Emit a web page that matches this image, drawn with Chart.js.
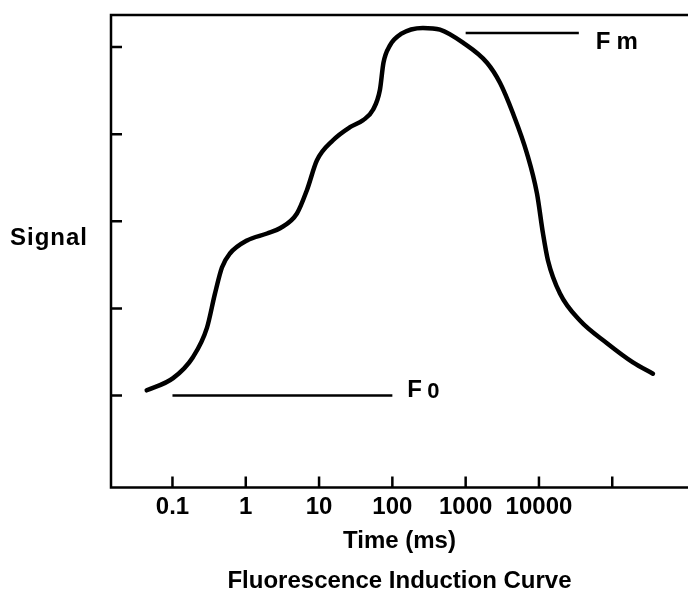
<!DOCTYPE html>
<html>
<head>
<meta charset="utf-8">
<script src="https://cdn.jsdelivr.net/npm/chart.js@4.4.1/dist/chart.umd.min.js"></script>
<style>
  html, body { margin: 0; padding: 0; background: #fff; }
</style>
</head>
<body>
<canvas id="chart" width="688" height="596"></canvas>
<script>
// ------------------------
// Data
// ------------------------

// induction curve: time (ms, log axis) and signal level (tick units)
const timeMs = [0.0445, 0.102, 0.19, 0.296, 0.38, 0.473, 0.608, 1.04, 1.95, 2.93,
  4.99, 6.84, 9.36, 15.5, 26.4, 39.7, 54.4, 67.7, 75.6, 92.8,
  131, 261, 446, 919, 1954, 2938, 4416, 6855, 9391, 11350,
  13270, 19360, 36250, 84700, 191500, 359000];
const signal = [1.06, 1.2, 1.44, 1.78, 2.17, 2.47, 2.63, 2.78, 2.86, 2.92,
  3.09, 3.36, 3.7, 3.93, 4.08, 4.16, 4.28, 4.51, 4.82, 5.02,
  5.15, 5.22, 5.2, 5.05, 4.82, 4.59, 4.24, 3.78, 3.32, 2.86,
  2.55, 2.17, 1.86, 1.6, 1.38, 1.25];

// reference levels
const f0Times = [0.1, 100];
const f0Level = 1;
const fmTimes = [1000, 35000];
const fmLevel = 5.16;

// axis ticks
const xTickValues = [0.1, 1, 10, 100, 1000, 10000, 100000];
const xTickLabels = ['0.1', '1', '10', '100', '1000', '10000', ''];
const yTickValues = [1, 2, 3, 4, 5];

const FONT = '"Liberation Sans", Arial, sans-serif';
Chart.defaults.font.family = FONT;
Chart.defaults.color = '#000';

// frame, inward ticks and the hand-placed labels
const framePlugin = {
  id: 'frame',
  afterDatasetsDraw(chart) {
    const { ctx, chartArea: a, scales: { x, y } } = chart;
    ctx.save();
    ctx.strokeStyle = '#000';
    ctx.lineWidth = 2.5;
    ctx.beginPath();
    ctx.moveTo(chart.width, a.top);
    ctx.lineTo(a.left, a.top);
    ctx.lineTo(a.left, a.bottom);
    ctx.lineTo(chart.width, a.bottom);
    xTickValues.forEach(v => {
      const px = x.getPixelForValue(v);
      ctx.moveTo(px, a.bottom);
      ctx.lineTo(px, a.bottom - 11);
    });
    yTickValues.forEach(v => {
      const py = y.getPixelForValue(v);
      ctx.moveTo(a.left, py);
      ctx.lineTo(a.left + 11, py);
    });
    ctx.stroke();

    ctx.fillStyle = '#000';
    ctx.textBaseline = 'middle';
    ctx.textAlign = 'left';
    ctx.font = 'bold 24px ' + FONT;
    ctx.letterSpacing = '1px';
    ctx.fillText('Signal', 10, 238);

    // Fm label
    ctx.letterSpacing = '6px';
    ctx.fillText('Fm', x.getPixelForValue(fmTimes[1]) + 17, y.getPixelForValue(fmLevel) + 9);

    // F0 label
    ctx.letterSpacing = '0px';
    const fx = x.getPixelForValue(f0Times[1]) + 15;
    const fy = y.getPixelForValue(f0Level) - 5;
    ctx.fillText('F', fx, fy);
    ctx.font = 'bold 22px ' + FONT;
    ctx.fillText('0', fx + 20, fy + 1);
    ctx.restore();
  }
};

new Chart(document.getElementById('chart'), {
  type: 'line',
  data: {
    datasets: [
      {
        data: timeMs.map((t, i) => ({ x: t, y: signal[i] })),
        borderColor: '#000',
        borderWidth: 4.5,
        cubicInterpolationMode: 'monotone',
        borderCapStyle: 'round',
        pointRadius: 0
      },
      {
        data: f0Times.map(t => ({ x: t, y: f0Level })),
        borderColor: '#000',
        borderWidth: 2.5,
        pointRadius: 0
      },
      {
        data: fmTimes.map(t => ({ x: t, y: fmLevel })),
        borderColor: '#000',
        borderWidth: 2.5,
        pointRadius: 0
      }
    ]
  },
  options: {
    responsive: false,
    animation: false,
    layout: { padding: { left: 111, top: 15, right: 0, bottom: 0 } },
    scales: {
      x: {
        type: 'logarithmic',
        min: 0.0145,
        max: 1080000,
        afterBuildTicks: scale => {
          scale.ticks = xTickValues.map(v => ({ value: v }));
        },
        grid: { display: false, drawTicks: false },
        border: { display: false },
        ticks: {
          autoSkip: false,
          maxRotation: 0,
          padding: 5,
          font: { size: 24, weight: 'bold' },
          color: '#000',
          callback: (v, i) => xTickLabels[i]
        },
        title: {
          display: true,
          text: 'Time (ms)',
          font: { size: 24, weight: 'bold' },
          color: '#000',
          padding: { top: 1, bottom: 0 }
        }
      },
      y: {
        display: false,
        min: -0.057,
        max: 5.368
      }
    },
    plugins: {
      legend: { display: false },
      tooltip: { enabled: false },
      title: {
        display: true,
        position: 'bottom',
        fullSize: false,
        text: 'Fluorescence Induction Curve',
        font: { size: 24, weight: 'bold' },
        color: '#000',
        padding: { top: 11, bottom: 0 }
      }
    }
  },
  plugins: [framePlugin]
});
</script>
</body>
</html>
